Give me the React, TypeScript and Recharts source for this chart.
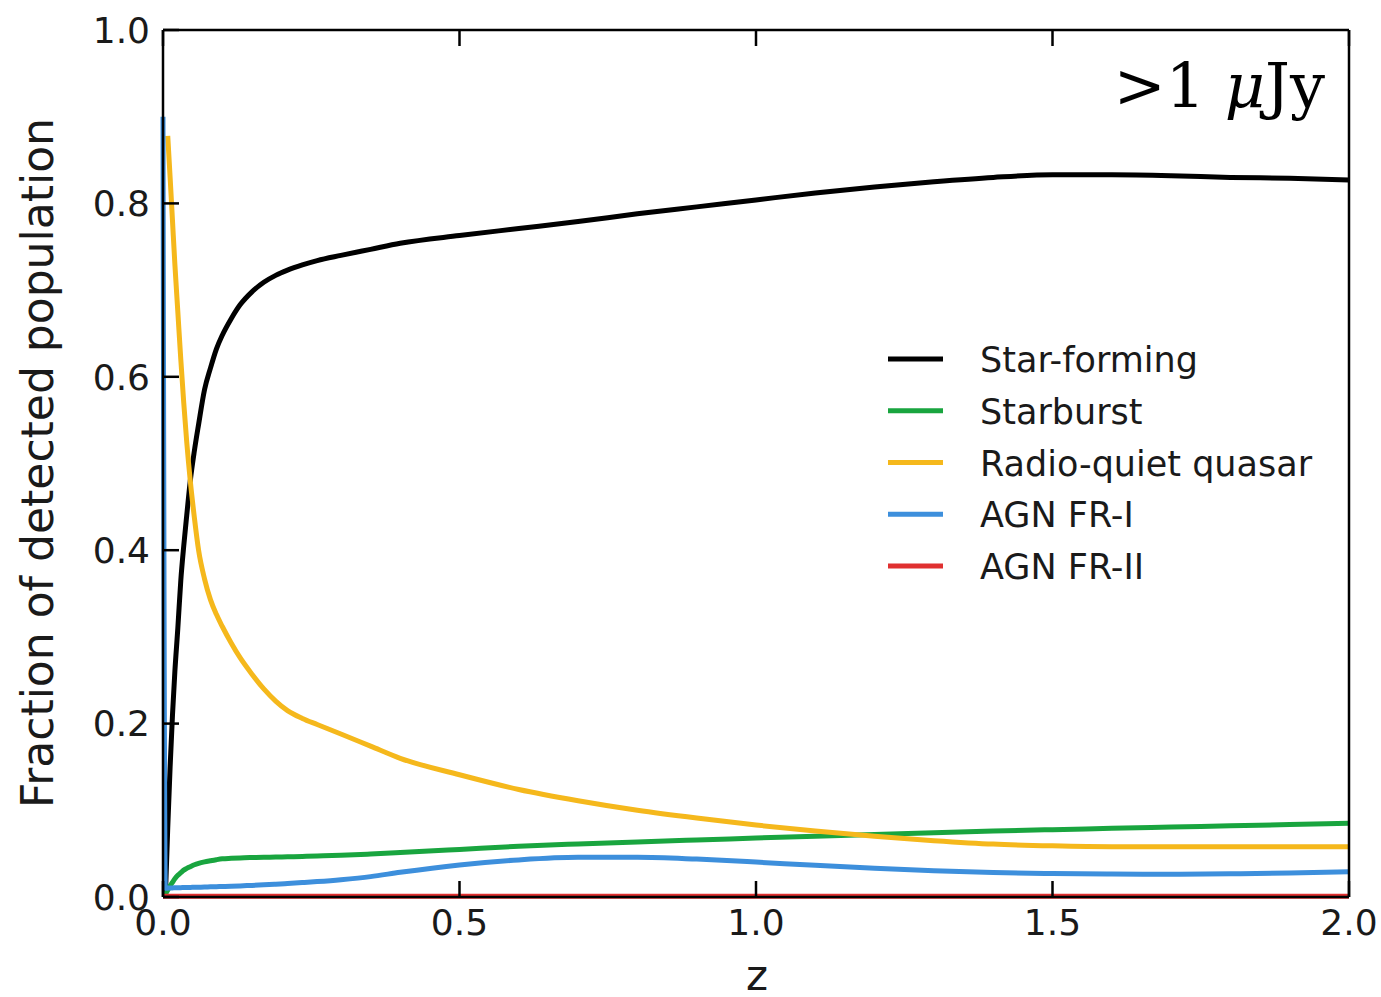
import { LineChart, Line, XAxis, YAxis, Legend, Label } from "recharts";

// redshift grid shared by every population curve
const zValues = [
  0, 0.004, 0.008, 0.012, 0.016, 0.02, 0.025, 0.03, 0.035, 0.04, 0.046, 0.053, 0.06, 0.07, 0.08, 0.09,
  0.1, 0.115, 0.13, 0.15, 0.17, 0.19, 0.21, 0.235, 0.26, 0.3, 0.35, 0.4, 0.5, 0.6, 0.7, 0.8, 0.9, 1.0,
  1.1, 1.2, 1.3, 1.4, 1.5, 1.6, 1.7, 1.8, 1.9, 2.0,
];

const starForming = [
  null, 0.0, 0.08, 0.15, 0.21, 0.26, 0.31, 0.365, 0.405, 0.44, 0.48, 0.515, 0.545, 0.585, 0.61, 0.632,
  0.648, 0.667, 0.683, 0.698, 0.709, 0.717, 0.723, 0.729, 0.734, 0.74, 0.747, 0.754, 0.763, 0.771, 0.779,
  0.788, 0.796, 0.804, 0.812, 0.819, 0.825, 0.83, 0.833, 0.833, 0.832, 0.83, 0.829, 0.827,
];

const starburst = [
  null, 0.003, 0.008, 0.013, 0.017, 0.021, 0.025, 0.028, 0.031, 0.033, 0.035, 0.0372, 0.0388, 0.0405,
  0.0418, 0.043, 0.044, 0.0446, 0.0451, 0.0455, 0.0458, 0.0461, 0.0464, 0.0468, 0.0473, 0.0482, 0.0496,
  0.0512, 0.0548, 0.0585, 0.0612, 0.0635, 0.0658, 0.068, 0.0702, 0.0722, 0.0741, 0.076, 0.0777, 0.0792,
  0.0807, 0.0821, 0.0836, 0.085,
];

const radioQuiet = [
  null, null, 0.878, 0.83, 0.78, 0.73, 0.675, 0.62, 0.57, 0.525, 0.48, 0.437, 0.4, 0.367, 0.343, 0.326,
  0.312, 0.293, 0.276, 0.257, 0.24, 0.226, 0.215, 0.206, 0.199, 0.188, 0.174, 0.16, 0.141, 0.124, 0.111,
  0.1, 0.091, 0.083, 0.076, 0.07, 0.065, 0.061, 0.059, 0.058, 0.058, 0.058, 0.058, 0.058,
];

const agnFR1 = [
  0.9, 0.01, 0.0102, 0.0104, 0.0105, 0.0106, 0.0107, 0.0108, 0.0109, 0.011, 0.0111, 0.0112, 0.0113,
  0.0115, 0.0117, 0.0119, 0.0121, 0.0124, 0.0128, 0.0134, 0.014, 0.0147, 0.0155, 0.0166, 0.0178, 0.02,
  0.0235, 0.0285, 0.037, 0.0428, 0.0458, 0.0458, 0.0437, 0.0403, 0.0365, 0.0332, 0.0303, 0.0283, 0.0271,
  0.0264, 0.0263, 0.0268, 0.0277, 0.029,
];

const agnFR2 = zValues.map(() => 0.001);

const xTicks = [0, 0.5, 1.0, 1.5, 2.0];
const yTicks = [0, 0.2, 0.4, 0.6, 0.8, 1.0];

const series = [
  { key: "sf", name: "Star-forming", color: "#000000", values: starForming },
  { key: "sb", name: "Starburst", color: "#19a53f", values: starburst },
  { key: "rq", name: "Radio-quiet quasar", color: "#f5b81c", values: radioQuiet },
  { key: "fr1", name: "AGN FR-I", color: "#3d8fdc", values: agnFR1 },
  { key: "fr2", name: "AGN FR-II", color: "#e03030", values: agnFR2 },
];

const rows = zValues.map((z, i) => {
  const row: Record<string, number | null> = { z };
  series.forEach((s) => {
    row[s.key] = s.values[i];
  });
  return row;
});

const FONT = "'DejaVu Sans', sans-serif";
const TEXT = "#1a1a1a";
const tickStyle = { fontSize: 36, fill: TEXT, fontFamily: FONT };
const spine = { stroke: "#000", strokeWidth: 2.5 };

// legend keeps the plotting order, not the alphabetical one
const LegendBox = () => (
  <svg width={470} height={260}>
    {series.map((s, i) => {
      const y = 20 + i * 51.75;
      return (
        <g key={s.key}>
          <line x1={8} x2={63} y1={y} y2={y} stroke={s.color} strokeWidth={5} />
          <text x={100} y={y + 13} fontSize={35} fontFamily={FONT} fill={TEXT}>
            {s.name}
          </text>
        </g>
      );
    })}
  </svg>
);

export default function App() {
  return (
    <div style={{ position: "absolute", left: 0, top: 0, width: 1381, height: 997, background: "#fff" }}>
      <LineChart width={1381} height={997} data={rows} margin={{ top: 29, right: 31, bottom: 40, left: 0 }}>
        <XAxis
          dataKey="z"
          type="number"
          domain={[0, 2]}
          ticks={xTicks}
          interval={0}
          tickFormatter={(v: number) => v.toFixed(1)}
          tick={tickStyle}
          tickLine={spine}
          axisLine={spine}
          tickSize={-16}
          tickMargin={28}
          height={60}
        >
          <Label
            content={() => (
              <text x={757} y={990} textAnchor="middle" fontSize={42} fontFamily={FONT} fill={TEXT}>
                z
              </text>
            )}
          />
        </XAxis>
        <XAxis
          xAxisId="top"
          orientation="top"
          dataKey="z"
          type="number"
          domain={[0, 2]}
          ticks={xTicks}
          interval={0}
          tickFormatter={() => ""}
          tickLine={spine}
          axisLine={spine}
          tickSize={-16}
          height={1}
        />
        <YAxis
          type="number"
          domain={[0, 1]}
          ticks={yTicks}
          interval={0}
          tickFormatter={(v: number) => v.toFixed(1)}
          tick={tickStyle}
          tickLine={spine}
          axisLine={spine}
          tickSize={-16}
          tickMargin={29}
          width={163}
        >
          <Label
            content={() => (
              <text
                x={53}
                y={463}
                transform="rotate(-90 53 463)"
                textAnchor="middle"
                fontSize={44}
                fontFamily={FONT}
                fill={TEXT}
              >
                Fraction of detected population
              </text>
            )}
          />
        </YAxis>
        <YAxis
          yAxisId="right"
          orientation="right"
          type="number"
          domain={[0, 1]}
          ticks={yTicks}
          interval={0}
          tickFormatter={() => ""}
          tickLine={spine}
          axisLine={spine}
          tickSize={-16}
          width={1}
        />
        {series.map((s) => (
          <Line
            key={s.key}
            type="monotone"
            dataKey={s.key}
            name={s.name}
            stroke={s.color}
            strokeWidth={5}
            dot={false}
            activeDot={false}
            isAnimationActive={false}
          />
        ))}
        <Legend
          layout="vertical"
          align="center"
          verticalAlign="middle"
          content={LegendBox}
          wrapperStyle={{ position: "absolute", left: 880, top: 339, width: 470, height: 260 }}
        />
      </LineChart>
      <svg
        width={1381}
        height={997}
        style={{ position: "absolute", left: 0, top: 0, pointerEvents: "none" }}
      >
        <text x={1325} y={107} textAnchor="end" fontSize={62} fontFamily="'DejaVu Serif', serif" fill="#000">
          <tspan>&gt;1 </tspan>
          <tspan fontStyle="italic">μ</tspan>
          <tspan>Jy</tspan>
        </text>
      </svg>
    </div>
  );
}
